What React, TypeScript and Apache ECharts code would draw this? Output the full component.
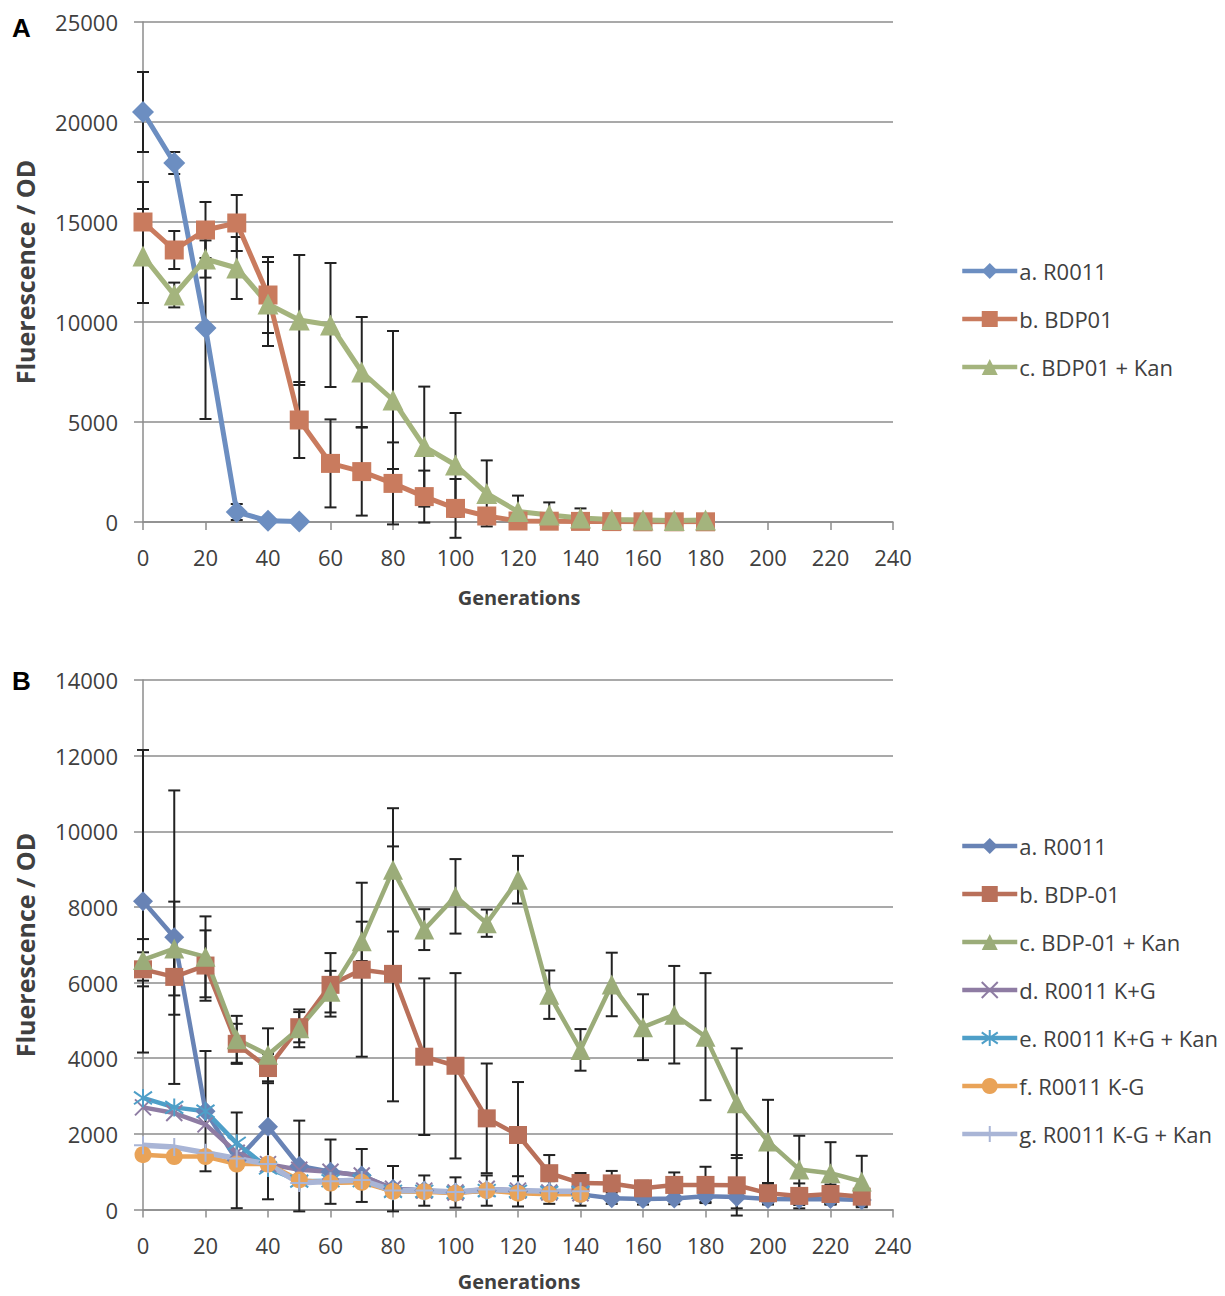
import React, { useEffect, useRef } from "react";
import * as echarts from "echarts";

// ---------- Panel A data ----------
const genA = [0, 10, 20, 30, 40, 50, 60, 70, 80, 90, 100, 110, 120, 130, 140, 150, 160, 170, 180];
const aR0011 = [20500, 17950, 9700, 500, 60, 30];
const aR0011Err = [2000, 550, 4550, 400, 0, 0];
const aBDP01 = [15000, 13600, 14600, 14950, 11350, 5100, 2930, 2520, 1930, 1270, 680, 300, 50, 40, 30, 20, 10, 10, 10];
const aBDP01Err = [2000, 950, 1400, 1400, 1900, 1900, 2200, 2200, 2050, 1300, 1470, 300, 100, 80, 60, 40, 30, 30, 30];
const aBDP01Kan = [13300, 11350, 13150, 12700, 10900, 10100, 9850, 7500, 6100, 3770, 2850, 1430, 520, 350, 200, 120, 100, 80, 100];
const aBDP01KanErr = [2350, 620, 930, 1550, 2100, 3250, 3100, 2750, 3450, 3000, 2600, 1650, 800, 630, 480, 150, 100, 100, 100];
const namesA = ["a. R0011", "b. BDP01", "c. BDP01 + Kan"];

// ---------- Panel B data ----------
const genB = [0, 10, 20, 30, 40, 50, 60, 70, 80, 90, 100, 110, 120, 130, 140, 150, 160, 170, 180, 190, 200, 210, 220, 230];
const bR0011 = [8150, 7200, 2600, 1300, 2190, 1150, 1000, 900, 550, 500, 450, 500, 480, 450, 400, 300, 280, 290, 350, 330, 280, 270, 280, 250];
const bR0011Err = [4000, 3880, 1590, 1265, 1920, 1200, 850, 700, 600, 400, 400, 400, 400, 300, 300, 150, 150, 150, 150, 300, 150, 150, 150, 150];
const bBDP01 = [6350, 6150, 6450, 4380, 3740, 4820, 5940, 6340, 6230, 4040, 3800, 2410, 1970, 960, 700, 690, 560, 650, 650, 640, 430, 360, 410, 340];
const bBDP01Err = [450, 1000, 930, 530, 400, 400, 840, 2300, 3370, 2070, 2450, 1450, 1400, 480, 265, 330, 200, 330, 480, 800, 250, 330, 250, 200];
const bBDP01Kan = [6600, 6900, 6680, 4500, 4090, 4790, 5760, 7090, 8980, 7400, 8280, 7570, 8720, 5680, 4220, 5950, 4820, 5150, 4570, 2810, 1800, 1060, 960, 740];
const bBDP01KanErr = [550, 1240, 1070, 620, 700, 500, 550, 520, 1630, 540, 985, 360, 630, 640, 550, 840, 870, 1290, 1680, 1450, 1100, 890, 820, 680];
const bKG = [2700, 2550, 2250, 1500, 1200, 1050, 1000, 900, 550, 500, 450, 550, 500, 450, 430];
const bKGKan = [2950, 2700, 2600, 1750, 1100, 750, 760, 760, 480, 480, 450, 500, 480, 450, 450];
const bKmG = [1450, 1400, 1400, 1200, 1200, 780, 700, 720, 480, 470, 430, 500, 430, 400, 400];
const bKmGKan = [1700, 1650, 1500, 1350, 1200, 700, 750, 780, 500, 500, 460, 530, 500, 480, 480];
const namesB = [
  "a. R0011",
  "b. BDP-01",
  "c. BDP-01 + Kan",
  "d. R0011 K+G",
  "e. R0011 K+G + Kan",
  "f. R0011 K-G",
  "g. R0011 K-G + Kan",
];

const FONT = '"Open Sans", "Noto Sans", sans-serif';
const GRID_COLOR = "#8c8c8c";
const TEXT_COLOR = "#404040";

const X_SYMBOL = "path://M0,0 L10,10 M10,0 L0,10";
const AST_SYMBOL = "path://M5,0 L5,10 M0,1.5 L10,8.5 M10,1.5 L0,8.5";
const PLUS_SYMBOL = "path://M5,0 L5,10 M0,5 L10,5";

function pairs(xs: number[], ys: number[]) {
  return ys.map((y, i) => [xs[i], y]);
}

function lineSeries(name: string, xs: number[], ys: number[], color: string, symbol: string, size: number, stroke = false, width = 4.5) {
  return {
    type: "line",
    name,
    data: pairs(xs, ys),
    symbol,
    symbolSize: size,
    showAllSymbol: true,
    z: 3,
    lineStyle: { color, width },
    itemStyle: stroke
      ? { color, borderColor: color, borderWidth: 2 }
      : { color, borderColor: color, borderWidth: 0 },
  };
}

function errSeries(xs: number[], ys: number[], es: number[]) {
  return {
    type: "custom",
    silent: true,
    z: 2,
    data: ys.map((y, i) => [xs[i], y, es[i]]),
    encode: { x: 0, y: 1 },
    renderItem: (_p: any, api: any) => {
      const x = api.value(0);
      const y = api.value(1);
      const e = api.value(2);
      if (!e) return { type: "group", children: [] };
      const t = api.coord([x, y + e]);
      const b = api.coord([x, y - e]);
      const hw = 6;
      const st = { stroke: "#222222", lineWidth: 2 };
      return {
        type: "group",
        children: [
          { type: "line", shape: { x1: t[0], y1: t[1], x2: b[0], y2: b[1] }, style: st },
          { type: "line", shape: { x1: t[0] - hw, y1: t[1], x2: t[0] + hw, y2: t[1] }, style: st },
          { type: "line", shape: { x1: b[0] - hw, y1: b[1], x2: b[0] + hw, y2: b[1] }, style: st },
        ],
      };
    },
  };
}

function axes(ymax: number, yint: number) {
  return {
    xAxis: {
      type: "value",
      min: 0,
      max: 240,
      interval: 20,
      axisLine: { show: true, lineStyle: { color: GRID_COLOR, width: 1.5 } },
      axisTick: { show: true, length: 8, lineStyle: { color: GRID_COLOR, width: 1.5 } },
      splitLine: { show: false },
      axisLabel: { fontSize: 22, color: TEXT_COLOR, margin: 24, fontFamily: FONT, formatter: (v: number) => String(v) },
    },
    yAxis: {
      type: "value",
      min: 0,
      max: ymax,
      interval: yint,
      axisLine: { show: true, lineStyle: { color: GRID_COLOR, width: 1.5 } },
      axisTick: { show: true, length: 9, lineStyle: { color: GRID_COLOR, width: 1.5 } },
      splitLine: { show: true, lineStyle: { color: GRID_COLOR, width: 1.5 } },
      axisLabel: { fontSize: 22, color: TEXT_COLOR, margin: 25, fontFamily: FONT, formatter: (v: number) => String(v) },
    },
  };
}

function titles(letter: string, letterY: number, genY: number, yTitleY: number) {
  return [
    { type: "text", left: 12, top: letterY, style: { text: letter, font: 'bold 26px "Liberation Sans", Arial, sans-serif', fill: "#000" } },
    {
      type: "text",
      x: 519,
      y: genY,
      style: { text: "Generations", font: `bold 20px ${FONT}`, fill: TEXT_COLOR, align: "center", verticalAlign: "middle" },
    },
    {
      type: "text",
      x: 25,
      y: yTitleY,
      rotation: Math.PI / 2,
      style: { text: "Fluerescence / OD", font: `bold 25px ${FONT}`, fill: TEXT_COLOR, align: "center", verticalAlign: "middle" },
    },
  ];
}

function legend(names: string[], top: number) {
  return {
    orient: "vertical",
    left: 955,
    top,
    itemWidth: 55,
    itemHeight: 20,
    itemGap: 26,
    data: names,
    selectedMode: false,
    lineStyle: { width: 4.5 },
    textStyle: { fontSize: 22, lineHeight: 20, color: TEXT_COLOR, fontFamily: FONT, padding: [0, 0, 0, -3] },
  };
}

const optionA = () => ({
  animation: false,
  textStyle: { fontFamily: FONT },
  grid: { left: 143, top: 22, width: 750, height: 500 },
  ...axes(25000, 5000),
  legend: legend(namesA, 255),
  graphic: titles("A", 15, 597, 272),
  series: [
    errSeries(genA, aR0011, aR0011Err),
    errSeries(genA, aBDP01, aBDP01Err),
    errSeries(genA, aBDP01Kan, aBDP01KanErr),
    lineSeries(namesA[0], genA, aR0011, "#6C8EC1", "diamond", 22, false, 5),
    lineSeries(namesA[1], genA, aBDP01, "#C97B5E", "rect", 19, false, 5),
    lineSeries(namesA[2], genA, aBDP01Kan, "#A4B47D", "triangle", 21, false, 5),
  ],
});

const optionB = () => ({
  animation: false,
  textStyle: { fontFamily: FONT },
  grid: { left: 143, top: 40, width: 750, height: 529.5 },
  ...axes(14000, 2000),
  legend: legend(namesB, 190),
  graphic: titles("B", 28, 641, 305),
  series: [
    errSeries(genB, bR0011, bR0011Err),
    errSeries(genB, bBDP01, bBDP01Err),
    errSeries(genB, bBDP01Kan, bBDP01KanErr),
    lineSeries(namesB[0], genB, bR0011, "#6883B5", "diamond", 20),
    lineSeries(namesB[1], genB, bBDP01, "#B9705A", "rect", 18),
    lineSeries(namesB[2], genB, bBDP01Kan, "#9BAC79", "triangle", 20),
    lineSeries(namesB[3], genB, bKG, "#8E7CA3", X_SYMBOL, 16, true),
    lineSeries(namesB[4], genB, bKGKan, "#4E9FC8", AST_SYMBOL, 18, true),
    lineSeries(namesB[5], genB, bKmG, "#E9A358", "circle", 17),
    lineSeries(namesB[6], genB, bKmGKan, "#A9B5D6", PLUS_SYMBOL, 18, true, 5.5),
  ],
});

function Chart({ top, height, option }: { top: number; height: number; option: () => any }) {
  const ref = useRef<HTMLDivElement>(null);
  useEffect(() => {
    if (!ref.current) return;
    const chart = echarts.init(ref.current, undefined, { renderer: "svg" });
    chart.setOption(option());
    return () => chart.dispose();
  }, []);
  return <div ref={ref} style={{ position: "absolute", left: 0, top, width: 1225, height }} />;
}

export default function App() {
  return (
    <div style={{ position: "absolute", left: 0, top: 0, width: 1225, height: 1296, background: "#fff" }}>
      <Chart top={0} height={640} option={optionA} />
      <Chart top={640} height={656} option={optionB} />
    </div>
  );
}
